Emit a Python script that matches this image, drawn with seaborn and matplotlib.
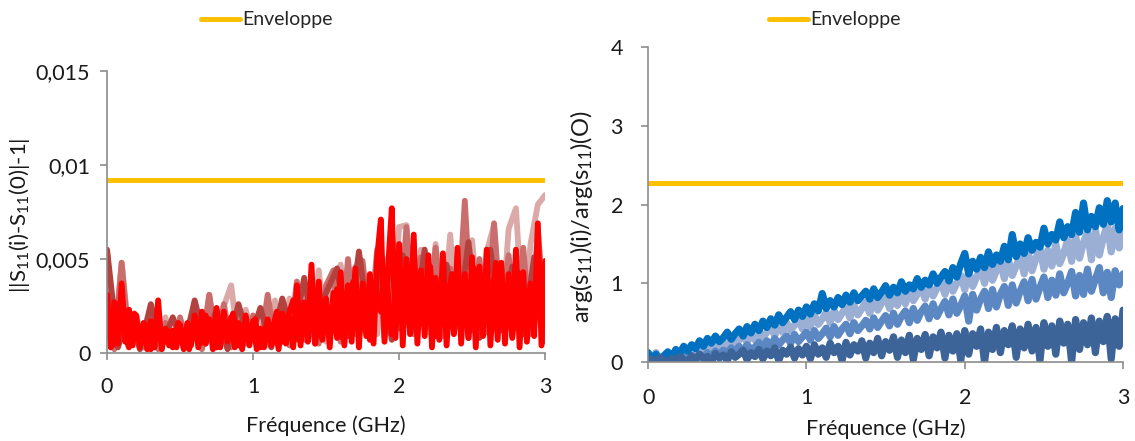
import numpy as np
import pandas as pd
import matplotlib
matplotlib.use("Agg")
import matplotlib.pyplot as plt
import seaborn as sns

sns.set_theme(style="white")
plt.rcParams['font.family'] = ['Lato', 'DejaVu Sans']
plt.rcParams['mathtext.fontset'] = 'custom'
plt.rcParams['mathtext.rm'] = 'Lato'
plt.rcParams['mathtext.it'] = 'Lato'
plt.rcParams['mathtext.default'] = 'rm'

# ---- left panel data (values in thousandths) ----
red = [3.1, 0.3, 2.7, 0.5, 3.7, 0.6, 2.3, 0.4, 2.0, 0.3, 1.6, 0.2, 1.7, 0.3, 2.8, 0.2,
       1.3, 0.4, 1.2, 0.3, 1.5, 0.2, 1.6, 0.4, 2.0, 0.3, 2.2, 0.5, 1.8, 0.2, 2.4, 0.3,
       2.2, 0.6, 1.9, 0.3, 1.6, 0.2, 2.0, 0.4, 1.7, 0.2, 1.3, 0.3, 1.8, 0.4, 1.5, 0.2,
       2.1, 0.5, 1.9, 0.3, 3.6, 0.4, 2.7, 0.6, 4.7, 0.5, 3.8, 0.7, 2.9, 0.3, 3.2, 0.8,
       4.3, 0.4, 3.6, 0.6, 4.5, 0.3, 3.7, 0.9, 4.2, 0.5, 5.1, 7.1, 0.6, 4.6, 7.7, 0.8,
       5.8, 0.4, 5.0, 1.0, 6.3, 0.5, 4.4, 0.9, 5.2, 0.3, 4.0, 0.7, 5.3, 0.4, 3.6, 1.0,
       5.6, 0.5, 4.2, 0.8, 5.1, 0.3, 4.6, 0.9, 5.5, 0.4, 3.9, 0.7, 4.8, 0.5, 4.2, 0.8,
       5.5, 0.3, 4.3, 0.6, 3.7, 0.9, 6.9, 0.4, 4.9]

red2 = [1.8, 0.4, 2.6, 1.2, 0.3, 2.1, 0.8, 1.5, 0.2,
        1.4, 0.6, 1.2, 0.3, 1.6, 0.9, 0.2, 1.8,
        0.5, 2.0, 1.1, 0.3, 1.7, 0.8, 2.1, 0.4,
        1.5, 0.9, 1.8, 0.3, 1.4, 1.0, 2.2, 0.6,
        1.9, 2.8, 0.7, 2.4, 1.2, 3.1, 0.9, 2.6,
        1.5, 3.4, 0.8, 2.9, 3.8, 1.3, 3.2, 0.7,
        3.6, 2.2, 4.1, 1.0, 3.5, 2.6, 4.4, 1.4,
        3.8, 2.0, 4.6, 0.9, 3.3, 2.5, 4.2, 1.6,
        3.7, 0.8, 4.5, 2.3, 3.4, 1.2, 4.8, 2.0,
        3.6, 0.9, 4.3, 2.7, 3.2, 1.5, 4.6, 3.8]

light_pink = [3.5, 0.4, 4.8, 1.0, 2.0, 0.3, 1.8, 0.5, 1.9, 0.4, 1.7, 0.3, 2.6, 0.6, 3.1, 0.4,
              2.5, 3.6, 0.5, 2.3, 0.8, 2.3, 0.4, 2.8, 0.6, 2.9, 0.7, 3.5, 1.0, 4.4, 0.6, 3.8,
              4.7, 0.9, 4.6, 1.2, 3.9, 1.0, 5.0, 1.4, 6.7, 6.8, 1.5, 5.5, 1.1, 5.8, 1.6, 6.3,
              1.3, 5.4, 6.0, 1.4, 5.4, 6.8, 1.2, 6.6, 7.7, 1.5, 5.8, 7.9, 8.4]
mid_red = [5.4, 0.2, 4.8, 0.5, 1.8, 0.3, 2.5, 0.2, 1.6, 0.4, 1.9, 0.3, 2.7, 0.2, 3.1, 0.4,
           2.6, 0.3, 2.3, 0.5, 2.0, 0.3, 3.1, 0.6, 2.8, 0.4, 3.8, 0.7, 3.5, 0.5, 3.6, 4.4,
           0.6, 5.0, 1.0, 4.9, 1.2, 5.5, 0.8, 5.3, 1.3, 6.7, 1.0, 5.1, 1.4, 5.6, 0.9, 4.5,
           1.5, 8.1, 1.2, 5.0, 1.1, 6.9, 1.6, 5.2, 1.3, 5.6, 1.0, 6.5, 1.9]
dark_red = [5.5, 0.3, 2.3, 0.2, 2.6, 0.4, 1.9, 0.3, 2.8, 0.5, 2.3, 0.2, 2.6, 0.6, 2.4, 0.3,
            2.9, 0.8, 4.0, 0.5, 3.2, 4.5, 0.9, 5.4, 1.1, 4.1, 0.7, 5.2, 1.2, 5.5, 0.9, 4.7,
            1.4, 5.9, 0.8, 5.5, 1.2, 4.6, 1.0, 5.1, 0.6]

env_left = 0.0092

# ---- right panel data ----
bright_blue = [0.12, 0.04, 0.10, 0.02, 0.08, 0.13, 0.05, 0.16, 0.10, 0.20,
               0.14, 0.22, 0.17, 0.27, 0.20, 0.30, 0.24, 0.33, 0.26, 0.31,
               0.38, 0.29, 0.36, 0.42, 0.33, 0.45, 0.37, 0.48, 0.40, 0.52,
               0.44, 0.55, 0.47, 0.60, 0.50, 0.57, 0.64, 0.54, 0.66, 0.58,
               0.70, 0.61, 0.74, 0.65, 0.87, 0.68, 0.78, 0.70, 0.82, 0.73,
               0.85, 0.76, 0.88, 0.78, 0.84, 0.90, 0.80, 0.93, 0.82, 0.89,
               0.97, 0.85, 0.95, 0.88, 1.02, 0.90, 0.98, 0.93, 1.06, 0.95,
               1.04, 0.98, 1.12, 1.00, 1.08, 1.15, 1.03, 1.20, 1.08, 1.25,
               1.38, 1.12, 1.28, 1.18, 1.33, 1.20, 1.40, 1.24, 1.36, 1.28,
               1.47, 1.30, 1.62, 1.34, 1.50, 1.38, 1.58, 1.42, 1.52, 1.46,
               1.70, 1.50, 1.62, 1.55, 1.78, 1.58, 1.72, 1.62, 1.90, 1.65,
               2.02, 1.68, 1.85, 1.72, 1.96, 1.75, 2.05, 1.78, 2.02, 1.68,
               1.95]
light_blue = [0.06, 0.00, 0.12, 0.03, 0.08, 0.00, 0.04, 0.00, 0.06, 0.10,
              0.05, 0.14, 0.08, 0.18, 0.12, 0.20, 0.14, 0.24, 0.17, 0.26,
              0.20, 0.30, 0.22, 0.28, 0.34, 0.25, 0.36, 0.28, 0.40, 0.31,
              0.38, 0.44, 0.34, 0.46, 0.38, 0.50, 0.40, 0.47, 0.53, 0.42,
              0.56, 0.45, 0.60, 0.48, 0.55, 0.63, 0.50, 0.66, 0.54, 0.62,
              0.70, 0.56, 0.72, 0.60, 0.68, 0.76, 0.62, 0.80, 0.66, 0.75,
              0.84, 0.68, 0.82, 0.72, 0.88, 0.74, 0.92, 0.78, 0.86, 0.95,
              0.80, 0.98, 0.84, 0.94, 1.02, 0.86, 1.06, 0.90, 1.00, 1.10,
              0.92, 1.15, 0.96, 1.08, 1.20, 1.00, 1.24, 1.04, 1.16, 1.28,
              1.06, 1.30, 1.10, 1.22, 1.36, 1.12, 1.40, 1.16, 1.32, 1.45,
              1.18, 1.42, 1.22, 1.50, 1.25, 1.38, 1.55, 1.28, 1.60, 1.32,
              1.52, 1.65, 1.30, 1.68, 1.36, 1.58, 1.75, 1.40, 1.70, 1.45,
              1.65]
mid_blue = [0.02, 0.00, 0.04, 0.00, 0.03, 0.00, 0.05, 0.01, 0.04, 0.07,
            0.02, 0.08, 0.04, 0.10, 0.06, 0.12, 0.07, 0.14, 0.09, 0.15,
            0.11, 0.18, 0.12, 0.20, 0.14, 0.22, 0.16, 0.19, 0.25, 0.17,
            0.27, 0.20, 0.30, 0.22, 0.28, 0.33, 0.24, 0.35, 0.26, 0.32,
            0.38, 0.28, 0.40, 0.30, 0.36, 0.43, 0.32, 0.45, 0.34, 0.42,
            0.48, 0.36, 0.50, 0.40, 0.46, 0.53, 0.42, 0.56, 0.44, 0.52,
            0.59, 0.46, 0.62, 0.48, 0.58, 0.65, 0.50, 0.68, 0.53, 0.64,
            0.71, 0.55, 0.74, 0.58, 0.68, 0.77, 0.60, 0.80, 0.62, 0.72,
            0.84, 0.52, 0.86, 0.66, 0.80, 0.90, 0.68, 0.92, 0.70, 0.86,
            0.96, 0.72, 0.98, 0.75, 0.90, 1.02, 0.78, 1.05, 0.80, 0.95,
            1.08, 0.82, 1.04, 0.85, 1.12, 0.88, 1.00, 1.15, 0.84, 1.10,
            0.86, 1.18, 0.90, 1.05, 1.20, 0.88, 1.14, 0.82, 1.16, 0.98,
            1.12]
dark_blue = [0.00, 0.04, 0.00, 0.06, 0.02, 0.00, 0.05, 0.01, 0.07, 0.03,
             0.00, 0.08, 0.02, 0.10, 0.04, 0.07, 0.00, 0.11, 0.05, 0.09,
             0.02, 0.13, 0.06, 0.10, 0.15, 0.03, 0.12, 0.07, 0.16, 0.04,
             0.14, 0.08, 0.18, 0.02, 0.15, 0.10, 0.19, 0.05, 0.17, 0.09,
             0.20, 0.04, 0.22, 0.10, 0.18, 0.06, 0.24, 0.12, 0.20, 0.02,
             0.25, 0.09, 0.22, 0.14, 0.27, 0.05, 0.24, 0.12, 0.30, 0.08,
             0.26, 0.15, 0.32, 0.06, 0.28, 0.12, 0.34, 0.03, 0.30, 0.16,
             0.35, 0.08, 0.32, 0.18, 0.38, 0.05, 0.34, 0.14, 0.36, 0.02,
             0.40, 0.10, 0.36, 0.20, 0.42, 0.00, 0.38, 0.16, 0.44, 0.12,
             0.40, 0.22, 0.46, 0.06, 0.42, 0.18, 0.48, 0.14, 0.44, 0.02,
             0.50, 0.20, 0.46, 0.10, 0.52, 0.24, 0.48, 0.00, 0.54, 0.16,
             0.50, 0.22, 0.56, 0.12, 0.52, 0.26, 0.58, 0.04, 0.55, 0.20,
             0.66]

env_right = 2.27
env_x = [0, 3]


def freq(values):
    # each series is sampled evenly over 0-3 GHz
    return np.linspace(0, 3, len(values))


fig = plt.figure(figsize=(11.35, 4.41), dpi=100)
ax1 = fig.add_axes([0.0943, 0.1995, 0.386, 0.6395])
ax2 = fig.add_axes([0.571, 0.179, 0.4185, 0.714])

lw = 4.2
for vals, col in [(light_pink, '#DBA9A8'), (mid_red, '#C96E6C'), (dark_red, '#B3423F'),
                  (red2, '#FF0000'), (red, '#FF0000')]:
    sns.lineplot(x=freq(vals), y=np.array(vals) / 1000, ax=ax1, color=col, linewidth=lw)
sns.lineplot(x=env_x, y=[env_left, env_left], ax=ax1, color='#FFC000', linewidth=3.6,
             label='Enveloppe')

lw2 = 5.2
for vals, col in [(light_blue, '#9BAFD5'), (mid_blue, '#5B87C3'), (bright_blue, '#0070C0'),
                  (dark_blue, '#3C6499')]:
    sns.lineplot(x=freq(vals), y=vals, ax=ax2, color=col, linewidth=lw2)
sns.lineplot(x=env_x, y=[env_right, env_right], ax=ax2, color='#FFC000', linewidth=3.6,
             label='Enveloppe')

ax1.set_xlim(0, 3)
ax1.set_ylim(0, 0.015)
ax1.set_yticks([0, 0.005, 0.01, 0.015])
ax1.set_yticklabels(['0', '0,005', '0,01', '0,015'])
ax1.set_ylabel('||S$_{11}$(i)-S$_{11}$(0)|-1|', fontsize=16, color='#1a1a1a')
ax1.yaxis.set_label_coords(-0.171, 0.49)
ax1.xaxis.set_label_coords(0.5, -0.22)

ax2.set_xlim(0, 3)
ax2.set_ylim(0, 4)
ax2.set_yticks([0, 1, 2, 3, 4])
ax2.set_yticklabels(['0', '1', '2', '3', '4'])
ax2.set_ylabel('arg(s$_{11}$)(i)/arg(s$_{11}$)(O)', fontsize=17, color='#1a1a1a')
ax2.yaxis.set_label_coords(-0.112, 0.46)
ax2.xaxis.set_label_coords(0.5, -0.178)

for ax, cx, xpad, ypad in [(ax1, 267 / 1135, 12, 7), (ax2, 835 / 1135, 14, 13)]:
    ax.set_xticks([0, 1, 2, 3])
    ax.set_xticklabels(['0', '1', '2', '3'])
    ax.set_xlabel('Fréquence (GHz)', fontsize=15.5, color='#1a1a1a', va='top')
    for s in ['top', 'right']:
        ax.spines[s].set_visible(False)
    for s in ['left', 'bottom']:
        ax.spines[s].set_color('#8c8c8c')
        ax.spines[s].set_linewidth(1.2)
    ax.tick_params(axis='both', which='both', direction='out', length=5, width=1.2,
                   color='#8c8c8c', labelsize=15.5, labelcolor='#1a1a1a', left=True, bottom=True)
    ax.tick_params(axis='x', pad=xpad)
    ax.tick_params(axis='y', pad=ypad)
    ax.grid(False)
    ax.legend(loc='center', bbox_to_anchor=(cx, 1 - 20 / 441), bbox_transform=fig.transFigure,
              frameon=False, fontsize=14, handlelength=2.0, handletextpad=0.15)

fig.savefig('out.png', dpi=100)
